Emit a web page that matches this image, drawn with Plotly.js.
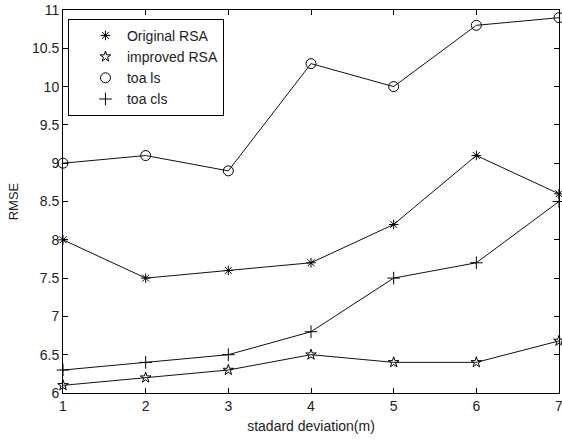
<!DOCTYPE html>
<html>
<head>
<meta charset="utf-8">
<script src="https://cdn.plot.ly/plotly-3.0.1.min.js"></script>
<style>html,body{margin:0;padding:0;background:#fff;}#chart{width:562px;height:440px;}</style>
</head>
<body>
<div id="chart"></div>
<script>
const xValues = [1, 2, 3, 4, 5, 6, 7];
const originalRSA = [8.0, 7.5, 7.6, 7.7, 8.2, 9.1, 8.6];
const improvedRSA = [6.1, 6.2, 6.3, 6.5, 6.4, 6.4, 6.68];
const toaLS = [9.0, 9.1, 8.9, 10.3, 10.0, 10.8, 10.9];
const toaCLS = [6.3, 6.4, 6.5, 6.8, 7.5, 7.7, 8.5];
const seriesNames = ['Original RSA', 'improved RSA', 'toa ls', 'toa cls'];
const seriesData = [originalRSA, improvedRSA, toaLS, toaCLS];
const symbols = ['asterisk-open', 'star-open', 'circle-open', 'cross-thin-open'];
const sizes = [8, 8, 10, 9];

const traces = [];
seriesData.forEach((ys, i) => {
  traces.push({
    x: xValues, y: ys, mode: 'lines', type: 'scatter',
    line: {color: '#111', width: 1}, showlegend: false, hoverinfo: 'skip'
  });
});
seriesData.forEach((ys, i) => {
  traces.push({
    x: xValues, y: ys, mode: 'markers', type: 'scatter', name: seriesNames[i],
    marker: {symbol: symbols[i], size: sizes[i], color: '#000', line: {color: '#000', width: 1}},
    cliponaxis: false
  });
});

const fam = 'Liberation Sans, Arial, sans-serif';
const layout = {
  width: 562, height: 440,
  margin: {l: 63, r: 3, t: 10, b: 47},
  paper_bgcolor: '#fff', plot_bgcolor: '#fff',
  font: {family: fam, size: 14, color: '#222'},
  showlegend: true,
  legend: {
    x: 0.01, y: 0.977, xanchor: 'left', yanchor: 'top',
    bgcolor: '#fff', bordercolor: '#000', borderwidth: 1,
    font: {family: fam, size: 14, color: '#222'},
    itemwidth: 33, indentation: 15, tracegroupgap: 0
  },
  xaxis: {
    range: [1, 7], tickmode: 'array', tickvals: xValues, ticktext: xValues.map(String),
    ticks: 'inside', ticklen: 5, tickcolor: '#000', mirror: 'ticks',
    showline: true, linecolor: '#000', linewidth: 1, showgrid: false, zeroline: false,
    ticklabeloverflow: 'allow',
    tickfont: {size: 14, color: '#222'},
    title: {text: 'stadard deviation(m)', font: {size: 14, color: '#222'}, standoff: 8}
  },
  yaxis: {
    range: [6, 11], tickmode: 'array',
    tickvals: [6, 6.5, 7, 7.5, 8, 8.5, 9, 9.5, 10, 10.5, 11],
    ticktext: ['6', '6.5', '7', '7.5', '8', '8.5', '9', '9.5', '10', '10.5', '11'],
    ticks: 'inside', ticklen: 5, tickcolor: '#000', mirror: 'ticks',
    showline: true, linecolor: '#000', linewidth: 1, showgrid: false, zeroline: false,
    ticklabeloverflow: 'allow',
    tickfont: {size: 14, color: '#222'},
    title: {text: 'RMSE', font: {size: 13, color: '#222'}, standoff: 10}
  }
};
Plotly.newPlot('chart', traces, layout, {displayModeBar: false, staticPlot: true});
</script>
</body>
</html>
